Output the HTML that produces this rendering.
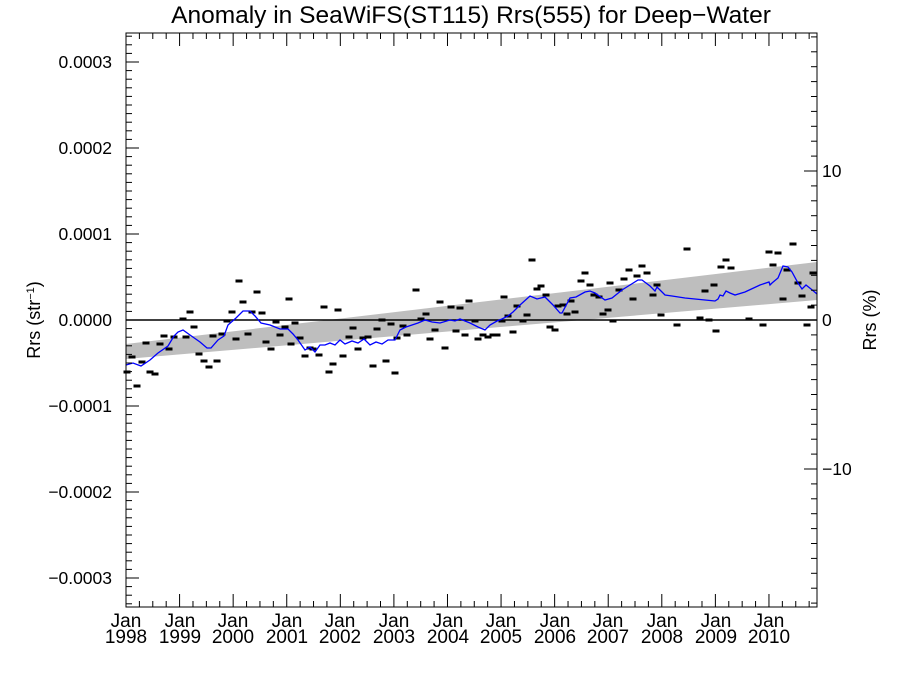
<!DOCTYPE html>
<html><head><meta charset="utf-8"><style>
html,body{margin:0;padding:0;background:#fff;}
svg{display:block;font-family:"Liberation Sans",sans-serif;}
</style></head><body>
<svg id="s" width="900" height="675" viewBox="0 0 900 675" xmlns="http://www.w3.org/2000/svg">
<rect width="900" height="675" fill="#fff"/>
<text x="471" y="23" font-size="24.5" text-anchor="middle">Anomaly in SeaWiFS(ST115) Rrs(555) for Deep−Water</text>
<polygon points="126,344 817,262 817,300 126,359" fill="#bebebe"/>
<line x1="126" y1="320" x2="817" y2="320" stroke="#000" stroke-width="1.5"/>
<g id="dashes" fill="#000"></g>
<polyline id="blue" fill="none" stroke="#0000ff" stroke-width="1.3" points="126,365 133,363 141,366 150,360 158,353 168,346 174,336 178,332 183,330 190,335 200,342 207,348 211,348 218,340 224,336 228,325 236,318 243,311 250,311 255,316 261,323 270,325 280,329 288,329 293,334 298,340 305,350 310,347 315,352 320,345 325,345 330,343 335,345 340,340 345,344 352,341 358,343 364,339 370,345 376,342 382,344 388,340 395,340 400,330 406,327 412,325 418,323 425,320 432,322 440,323 450,320 455,321 460,319 470,323 478,327 485,330 490,325 497,321 502,319 508,316 513,312 520,305 530,296 537,299 545,297 553,305 560,313 562,313 570,298 576,297 585,292 590,291 595,293 605,300 612,298 622,290 630,285 638,280 642,280 650,286 655,291 657,287 660,290 665,295 672,296 685,298 705,300 715,301 718,299 720,295 723,296 726,291 730,293 735,295 745,292 760,285 769,282 770,285 772,283 778,278 783,266 788,267 792,272 798,283 802,289 806,285 811,289 817,294"/>
<g id="ax" stroke="#000" stroke-width="1"></g>
<rect x="126" y="33" width="691" height="574" fill="none" stroke="#000" stroke-width="1"/>
<g font-size="17.5" text-anchor="end">
<text x="112" y="68">0.0003</text>
<text x="112" y="154">0.0002</text>
<text x="112" y="240">0.0001</text>
<text x="112" y="326">0.0000</text>
<text x="112" y="412">−0.0001</text>
<text x="112" y="498">−0.0002</text>
<text x="112" y="584">−0.0003</text>
</g>
<g font-size="17.5" text-anchor="start">
<text x="822" y="177">10</text>
<text x="822" y="326">0</text>
<text x="822" y="475">−10</text>
</g>
<text transform="translate(40,320) rotate(-90)" font-size="18" text-anchor="middle">Rrs (str<tspan font-size="11" dy="-6">−1</tspan><tspan dy="6">)</tspan></text>
<text transform="translate(876,320) rotate(-90)" font-size="18" text-anchor="middle">Rrs (%)</text>
<g font-size="19" text-anchor="middle">
<text x="126" y="627">Jan</text><text x="126" y="643">1998</text>
<text x="180" y="627">Jan</text><text x="180" y="643">1999</text>
<text x="233" y="627">Jan</text><text x="233" y="643">2000</text>
<text x="287" y="627">Jan</text><text x="287" y="643">2001</text>
<text x="340" y="627">Jan</text><text x="340" y="643">2002</text>
<text x="394" y="627">Jan</text><text x="394" y="643">2003</text>
<text x="448" y="627">Jan</text><text x="448" y="643">2004</text>
<text x="501" y="627">Jan</text><text x="501" y="643">2005</text>
<text x="555" y="627">Jan</text><text x="555" y="643">2006</text>
<text x="608" y="627">Jan</text><text x="608" y="643">2007</text>
<text x="662" y="627">Jan</text><text x="662" y="643">2008</text>
<text x="716" y="627">Jan</text><text x="716" y="643">2009</text>
<text x="769" y="627">Jan</text><text x="769" y="643">2010</text>
</g>
</svg>
<script>
var NS="http://www.w3.org/2000/svg";
var d=[[127,372],[132,357],[137,386],[142,362],[146,343],[150,372],[155,374],[160,344],[164,336],[169,349],[174,337],[183,319],[186,337],[190,312],[194,327],[199,354],[204,361],[209,367],[213,336],[217,361],[222,334],[227,321],[232,312],[236,339],[239,281],[243,302],[248,334],[252,312],[257,292],[262,313],[266,342],[271,349],[276,322],[280,335],[285,327],[289,299],[291,344],[295,323],[300,338],[305,356],[310,348],[313,349],[319,355],[324,307],[329,372],[333,364],[338,310],[343,356],[349,337],[353,328],[358,349],[363,338],[368,337],[373,366],[377,329],[382,320],[386,361],[391,324],[395,373],[397,338],[403,326],[407,335],[416,290],[421,319],[426,314],[430,339],[435,330],[440,302],[445,348],[451,307],[456,331],[460,308],[465,335],[469,301],[475,321],[478,339],[483,335],[488,337],[493,335],[497,335],[502,321],[504,297],[508,316],[513,332],[517,306],[523,321],[527,315],[532,260],[537,289],[541,286],[546,295],[550,327],[555,330],[558,306],[563,305],[567,314],[571,301],[575,312],[581,281],[585,273],[590,285],[594,295],[599,297],[603,314],[608,310],[613,321],[610,283],[619,290],[624,279],[629,270],[633,299],[637,276],[642,266],[647,273],[653,295],[657,285],[661,315],[677,325],[687,249],[700,318],[705,291],[709,320],[714,285],[716,331],[721,267],[726,260],[731,268],[749,319],[763,325],[769,252],[778,253],[773,265],[783,299],[787,270],[793,244],[798,283],[802,296],[811,307],[807,325],[813,273]];
var g=document.getElementById("dashes");
d.forEach(function(p){var r=document.createElementNS(NS,"rect");r.setAttribute("x",p[0]-3.5);r.setAttribute("y",p[1]-1.5);r.setAttribute("width",7);r.setAttribute("height",3);g.appendChild(r);});
var ax=document.getElementById("ax");
function L(x1,y1,x2,y2){var l=document.createElementNS(NS,"line");l.setAttribute("x1",x1);l.setAttribute("y1",y1);l.setAttribute("x2",x2);l.setAttribute("y2",y2);ax.appendChild(l);}
for(var i=-38;i<=38;i++){var y=320-i*8.6;if(y<33||y>607)continue;var len=(i%10==0)?13:6;L(126,y,126+len,y);}
for(var i=-19;i<=19;i++){var y=320-i*14.9;if(y<33||y>607)continue;var len=(i%10==0)?13:6;L(817,y,817-len,y);}
var yr=53.58;
for(var q=0;q<=52;q++){var x=126+q*yr/4;if(x>817)break;var len=(q%4==0)?13:6;L(x,607,x,607-len);L(x,33,x,33+len);}
</script>
</body></html>
